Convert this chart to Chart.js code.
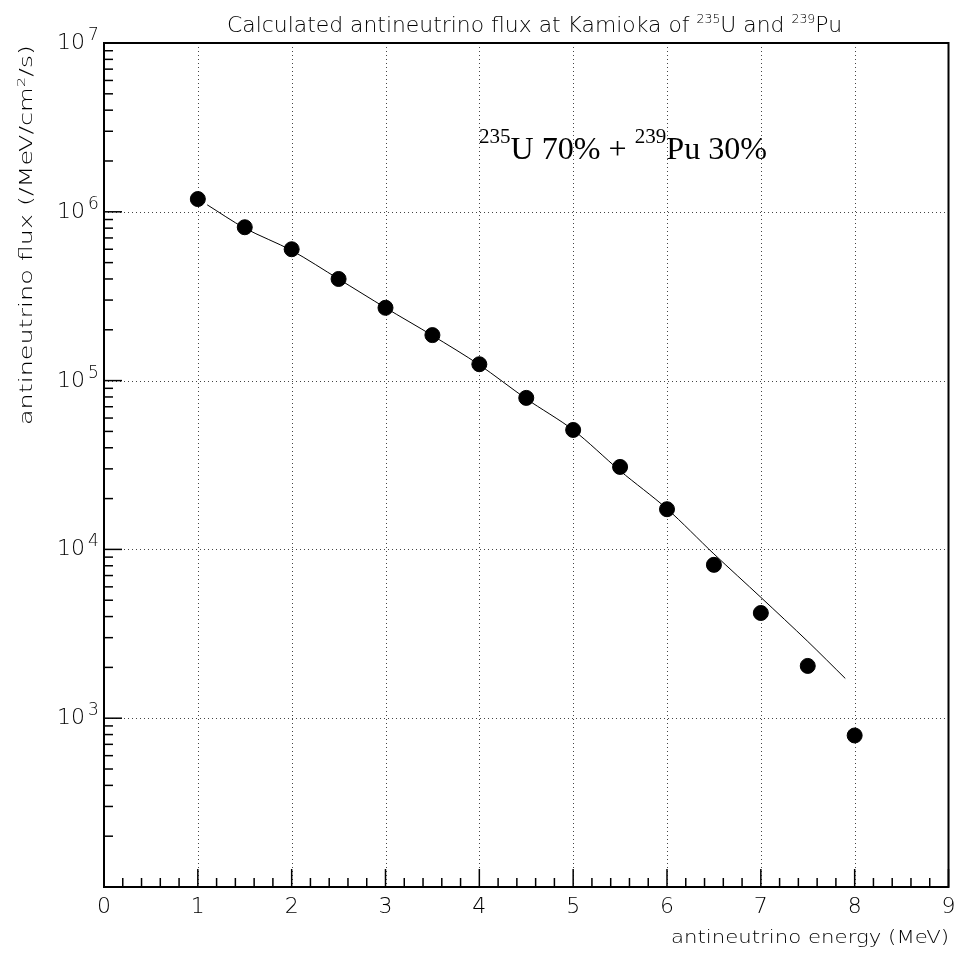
<!DOCTYPE html>
<html>
<head>
<meta charset="utf-8">
<script src="https://cdn.jsdelivr.net/npm/chart.js@4"></script>
<style>
  html, body { margin: 0; padding: 0; background: #fff; }
  canvas { display: block; }
</style>
</head>
<body>
<canvas id="fluxChart" width="957" height="953"></canvas>
<script>
// Puntos medidos (energía en MeV, flujo en /MeV/cm2/s)
const energias = [1, 1.5, 2, 2.5, 3, 3.5, 4, 4.5, 5, 5.5, 6, 6.5, 7, 7.5, 8];
const flujos = [1.19e6, 8.1e5, 6.0e5, 4.0e5, 2.7e5, 1.86e5, 1.25e5, 7.9e4, 5.1e4, 3.08e4, 1.73e4, 8.1e3, 4.2e3, 2.04e3, 7.9e2];

// Curva calculada
const curvaE = [1.1, 1.5, 2, 2.5, 3, 3.5, 4, 4.5, 5, 5.5, 6, 6.5, 7, 7.5, 7.9];
const curvaF = [1.10e6, 8.0e5, 5.9e5, 4.0e5, 2.7e5, 1.85e5, 1.24e5, 7.8e4, 5.1e4, 2.92e4, 1.74e4, 9.4e3, 5.2e3, 2.85e3, 1.72e3];

// Etiquetas de ejes
const xTicks = [0, 1, 2, 3, 4, 5, 6, 7, 8, 9];
const yExpon = [3, 4, 5, 6, 7];

const fuente = '"DejaVu Sans", "Open Sans", sans-serif';
const serif = '"Liberation Serif", "Times New Roman", serif';

const puntos = energias.map((e, i) => ({ x: e, y: flujos[i] }));
const curva = curvaE.map((e, i) => ({ x: e, y: curvaF[i] }));

// Plugin: rejilla punteada, marco, marcas y textos al estilo ROOT
const estiloRoot = {
    id: 'estiloRoot',
    beforeDraw(chart) {
        const ctx = chart.ctx;
        ctx.save();
        ctx.fillStyle = '#fff';
        ctx.fillRect(0, 0, chart.width, chart.height);
        ctx.restore();
    },
    beforeDatasetsDraw(chart) {
        const { ctx, chartArea: a, scales: { x, y } } = chart;
        ctx.save();
        ctx.strokeStyle = '#444';
        ctx.lineWidth = 1;
        ctx.setLineDash([1, 3]);
        xTicks.slice(1, -1).forEach(v => {
            const px = Math.round(x.getPixelForValue(v)) + 0.5;
            ctx.beginPath(); ctx.moveTo(px, a.top); ctx.lineTo(px, a.bottom); ctx.stroke();
        });
        yExpon.slice(0, -1).forEach(p => {
            const py = Math.round(y.getPixelForValue(Math.pow(10, p))) + 0.5;
            ctx.beginPath(); ctx.moveTo(a.left, py); ctx.lineTo(a.right, py); ctx.stroke();
        });
        ctx.restore();
    },
    afterDraw(chart) {
        const { ctx, chartArea: a, scales: { x, y } } = chart;
        ctx.save();
        ctx.strokeStyle = '#000';
        ctx.lineWidth = 1.5;

        // marcas eje x
        for (let i = 0; i <= 45; i++) {
            const px = x.getPixelForValue(i * 0.2);
            const largo = (i % 5 === 0) ? 18 : 9;
            ctx.beginPath(); ctx.moveTo(px, a.bottom); ctx.lineTo(px, a.bottom - largo); ctx.stroke();
        }
        // marcas eje y (logarítmico)
        for (let p = 2; p < 7; p++) {
            for (let m = 1; m <= 9; m++) {
                const py = y.getPixelForValue(m * Math.pow(10, p));
                const largo = (m === 1) ? 18 : 9;
                ctx.beginPath(); ctx.moveTo(a.left, py); ctx.lineTo(a.left + largo, py); ctx.stroke();
            }
        }

        // marco
        ctx.lineWidth = 2;
        ctx.strokeRect(a.left, a.top, a.right - a.left, a.bottom - a.top);

        ctx.fillStyle = '#000';
        // etiquetas x
        ctx.font = '200 22px ' + fuente;
        ctx.textAlign = 'center';
        ctx.textBaseline = 'alphabetic';
        xTicks.forEach(v => ctx.fillText(String(v), x.getPixelForValue(v), a.bottom + 26));

        // etiquetas y: 10^n
        yExpon.forEach(p => {
            const py = y.getPixelForValue(Math.pow(10, p));
            ctx.font = '200 22px ' + fuente;
            ctx.textAlign = 'right';
            ctx.textBaseline = 'alphabetic';
            ctx.fillText('10', 85, py + 6);
            ctx.font = '200 17px ' + fuente;
            ctx.textAlign = 'left';
            ctx.fillText(String(p), 88, py - 3);
        });

        // título con superíndices
        dibujarTexto(ctx, [
            ['Calculated antineutrino flux at Kamioka of ', false],
            ['235', true], ['U and ', false], ['239', true], ['Pu', false]
        ], 227, 32, '200 21px ' + fuente, '200 12px ' + fuente, 9, 615);

        // título eje x
        dibujarTexto(ctx, [['antineutrino energy (MeV)', false]],
            671, 943, '200 17px ' + fuente, '', 0, 278);

        // título eje y (rotado)
        ctx.save();
        ctx.translate(32, 425);
        ctx.rotate(-Math.PI / 2);
        dibujarTexto(ctx, [['antineutrino flux (/MeV/cm', false], ['2', true], ['/s)', false]],
            0, 0, '200 17px ' + fuente, '200 11px ' + fuente, 7, 380);
        ctx.restore();

        // anotación
        dibujarTexto(ctx, [['235', true], ['U 70% + ', false], ['239', true], ['Pu 30%', false]],
            479, 159, '32px ' + serif, '21px ' + serif, 16, 288);

        ctx.restore();
    }
};

// Texto con superíndices, estirado en horizontal hasta el ancho indicado
function dibujarTexto(ctx, partes, x0, base, fNormal, fSup, subida, anchoObjetivo) {
    ctx.textBaseline = 'alphabetic';
    ctx.textAlign = 'left';
    let ancho = 0;
    partes.forEach(([t, sup]) => { ctx.font = sup ? fSup : fNormal; ancho += ctx.measureText(t).width; });
    const k = anchoObjetivo ? anchoObjetivo / ancho : 1;
    ctx.save();
    ctx.translate(x0, base);
    ctx.scale(k, 1);
    let cx = 0;
    partes.forEach(([t, sup]) => {
        ctx.font = sup ? fSup : fNormal;
        ctx.fillText(t, cx, sup ? -subida : 0);
        cx += ctx.measureText(t).width;
    });
    ctx.restore();
}

new Chart(document.getElementById('fluxChart').getContext('2d'), {
    type: 'scatter',
    data: {
        datasets: [
            {
                label: 'curva',
                data: curva,
                showLine: true,
                borderColor: '#000',
                borderWidth: 1,
                pointRadius: 0,
                tension: 0.3,
                order: 2
            },
            {
                label: 'puntos',
                data: puntos,
                backgroundColor: '#000',
                borderColor: '#000',
                pointRadius: 7.5,
                order: 1
            }
        ]
    },
    options: {
        responsive: false,
        animation: false,
        layout: { padding: { left: 104, right: 7, top: 43, bottom: 66 } },
        plugins: { legend: { display: false }, tooltip: { enabled: false }, title: { display: false } },
        scales: {
            x: { type: 'linear', min: 0, max: 9, display: false },
            y: { type: 'logarithmic', min: 100, max: 1e7, display: false }
        }
    },
    plugins: [estiloRoot]
});
</script>
</body>
</html>
